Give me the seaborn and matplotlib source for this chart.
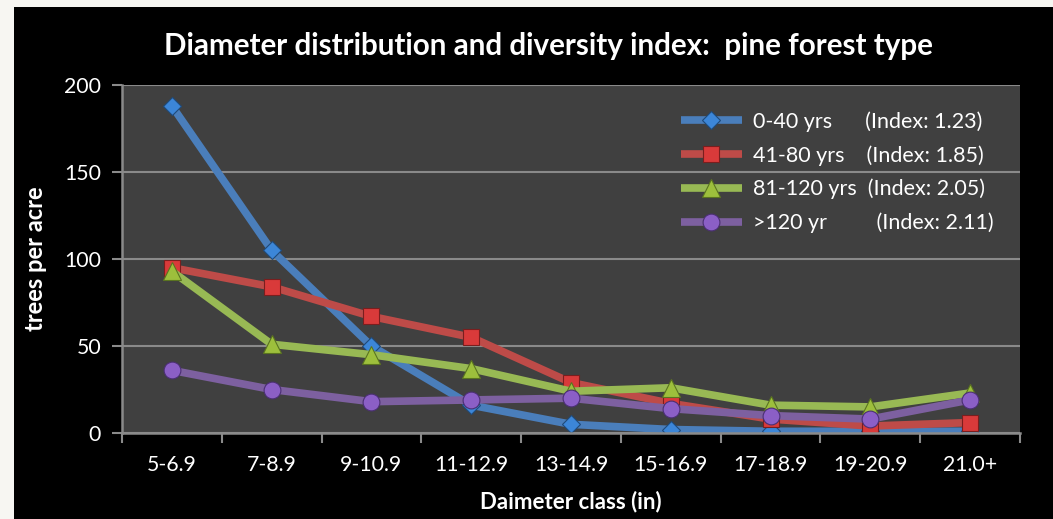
import numpy as np
import pandas as pd
import matplotlib
matplotlib.use("Agg")
import matplotlib.pyplot as plt
import seaborn as sns
from matplotlib.patches import Rectangle

# Diameter classes and stand-age series (trees per acre)
categories = ["5-6.9", "7-8.9", "9-10.9", "11-12.9", "13-14.9",
              "15-16.9", "17-18.9", "19-20.9", "21.0+"]
age_0_40 = [188, 105, 50, 16, 5, 2, 1, 1, 1]
age_41_80 = [95, 84, 67, 55, 29, 17, 8, 4, 6]
age_81_120 = [93, 51, 45, 37, 24, 26, 16, 15, 23]
age_120_plus = [36, 25, 18, 19, 20, 14, 10, 8, 19]
series_labels = ["0-40 yrs      (Index: 1.23)",
                 "41-80 yrs    (Index: 1.85)",
                 "81-120 yrs  (Index: 2.05)",
                 ">120 yr         (Index: 2.11)"]
y_ticks = [0, 50, 100, 150, 200]

sns.set_theme(style="dark")
plt.rcParams["font.family"] = ["Lato", "DejaVu Sans"]

W, H = 1053, 519
fig = plt.figure(figsize=(W / 100, H / 100), dpi=100, facecolor="#f7f6f2")
# black chart area inside the pale page margin
fig.patches.append(Rectangle((14 / W, 0), 1 - 14 / W, (H - 7) / H,
                             transform=fig.transFigure, facecolor="black",
                             edgecolor="none", zorder=-10))

ax = fig.add_axes([122 / W, (H - 433) / H, (1020 - 122) / W, (433 - 85) / H])
ax.set_facecolor("#404040")

x = np.arange(len(categories))
series = [age_0_40, age_41_80, age_81_120, age_120_plus]
line_colors = ["#4a7ebb", "#be4b48", "#98b954", "#7d60a0"]
face_colors = ["#3c86d8", "#d93a3a", "#9dbf3c", "#8b5fc6"]
edge_colors = ["#1f4a7a", "#7a1e1e", "#5a7420", "#4a2f72"]
markers = ["D", "s", "^", "o"]
msizes = [14.0, 19.5, 20.5, 19.5]

for vals, lab, lc, fc, ec, mk, ms in zip(series, series_labels, line_colors,
                                         face_colors, edge_colors, markers, msizes):
    df = pd.DataFrame({"cls": x, "trees": vals})
    sns.lineplot(data=df, x="cls", y="trees", ax=ax, color=lc, linewidth=6.3,
                 marker=mk, markersize=ms, markerfacecolor=fc,
                 markeredgecolor=ec, markeredgewidth=0.8, label=lab,
                 solid_capstyle="butt", solid_joinstyle="round")

ax.set_xlim(-0.5, len(categories) - 0.5)
ax.set_ylim(0, 200)
ax.set_yticks(y_ticks)
ax.set_yticklabels([str(v) for v in y_ticks])
ax.yaxis.grid(True, color="#8a8a8a", linewidth=1.5)
ax.xaxis.grid(False)
ax.set_axisbelow(True)

# tick marks on category boundaries, labels on centres
ax.set_xticks(np.arange(-0.5, len(categories), 1.0))
ax.set_xticklabels([])
ax.set_xticks(x, minor=True)
ax.set_xticklabels(categories, minor=True)
ax.tick_params(axis="x", which="major", length=7, width=1.5, color="#8a8a8a",
               direction="out", bottom=True)
ax.tick_params(axis="x", which="minor", length=0, pad=16, labelsize=15.3,
               labelcolor="white", bottom=True)
ax.tick_params(axis="y", length=7, width=1.5, color="#8a8a8a", direction="out",
               left=True, pad=8, labelsize=15.3, labelcolor="white")

for side in ["top", "right"]:
    ax.spines[side].set_visible(False)
for side in ["left", "bottom"]:
    ax.spines[side].set_visible(True)
    ax.spines[side].set_color("#8a8a8a")
    ax.spines[side].set_linewidth(1.8)

ax.set_xlabel("Daimeter class (in)", color="white", fontsize=16,
              fontweight="bold", labelpad=11)
ax.set_ylabel("trees per acre", color="white", fontsize=17,
              fontweight="bold", labelpad=12)
fig.text(548 / W, 1 - 46 / H,
         "Diameter distribution and diversity index:  pine forest type",
         color="white", fontsize=21.3, fontweight="bold", ha="center", va="center")

handles, labels = ax.get_legend_handles_labels()
for h in handles:
    h.set_markersize(h.get_markersize() * 0.62)
    h.set_linewidth(5.5)
leg = ax.legend(handles, labels, loc="upper right",
                bbox_to_anchor=((994 - 122) / 898, (433 - 111) / 348),
                borderaxespad=0, borderpad=0,
                frameon=False, fontsize=15.5, handlelength=2.8, labelspacing=0.62,
                handletextpad=0.55, labelcolor="white", numpoints=1)

fig.savefig("out.png", dpi=100, facecolor=fig.get_facecolor())
